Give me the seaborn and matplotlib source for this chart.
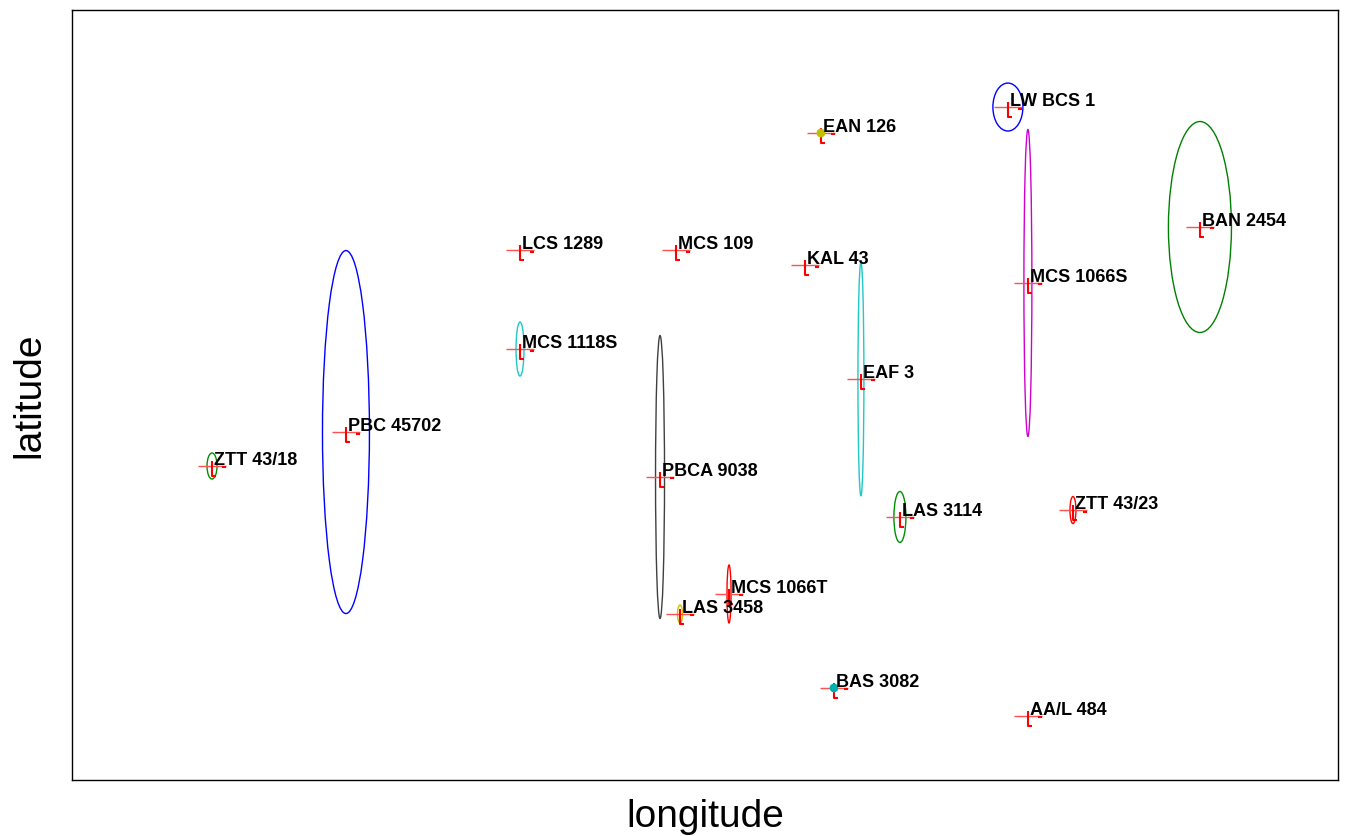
import numpy as np
import pandas as pd
import matplotlib
matplotlib.use("Agg")
import matplotlib.pyplot as plt
from matplotlib.patches import Ellipse
from matplotlib.path import Path
import seaborn as sns

# station positions (arbitrary lon/lat units)
names = ["ZTT 43/18", "PBC 45702", "LCS 1289", "MCS 1118S", "MCS 109", "PBCA 9038",
         "LAS 3458", "MCS 1066T", "KAL 43", "EAN 126", "BAS 3082", "EAF 3",
         "LAS 3114", "LW BCS 1", "MCS 1066S", "ZTT 43/23", "AA/L 484", "BAN 2454"]
lon = [11.06, 21.64, 35.39, 35.39, 47.71, 46.45, 48.03, 51.90, 57.90, 59.16, 60.19, 62.32,
       65.40, 73.93, 75.51, 79.07, 75.51, 89.10]
lat = [40.78, 45.19, 68.83, 55.97, 68.83, 39.35, 21.56, 24.16, 66.88, 84.03, 11.95, 52.08,
       34.16, 87.40, 64.55, 35.06, 8.31, 71.82]

# error ellipses: width (lon), height (lat), colour; None = none drawn
err_w = [0.79, 3.71, 0, 0.63, 0, 0.71, 0.40, 0.32, 0, 0, 0, 0.47,
         0.95, 2.37, 0.63, 0.47, 0, 4.98]
err_h = [3.38, 47.14, 0, 7.01, 0, 36.75, 2.34, 7.53, 0, 0, 0, 30.39,
         6.62, 6.23, 39.87, 3.51, 0, 27.40]
err_col = ["#009000", "#0000ff", None, "#20c8c8", None, "#404040", "#d0c000", "#ff0000",
           None, None, None, "#20c8c8", "#009000", "#0000ff", "#d000d0", "#ff0000",
           None, "#008000"]

# small filled dots
dot_names = ["EAN 126", "BAS 3082"]
dot_cols = ["#c0c000", "#00b0b0"]

df = pd.DataFrame({"name": names, "lon": lon, "lat": lat})

sns.set_style("white")
plt.rcParams["font.family"] = ["Liberation Sans", "DejaVu Sans"]

fig, ax = plt.subplots(figsize=(13.46, 8.36), dpi=100)
fig.subplots_adjust(left=0.0535, right=0.994, top=0.988, bottom=0.067)

for x, y, w, h, c in zip(lon, lat, err_w, err_h, err_col):
    if c is None:
        continue
    ax.add_patch(Ellipse((x, y), w, h, fill=False, edgecolor=c, lw=1.0, zorder=2))

# horizontal red bar through each station
sns.scatterplot(data=df, x="lon", y="lat", marker="_", s=420, color="#ff5050",
                linewidth=1.0, ax=ax, zorder=3, legend=False)

# red bracket mark
bracket = Path([(0, 0.5), (0, -1), (0.4, -1), (1.0, -0.15), (1.4, -0.15)],
               [Path.MOVETO, Path.LINETO, Path.LINETO, Path.MOVETO, Path.LINETO])
sns.scatterplot(data=df, x="lon", y="lat", marker=bracket, s=400, facecolor="none",
                edgecolor="#ff0000", linewidth=1.5, ax=ax, zorder=4, legend=False)

dots = df.set_index("name").loc[dot_names]
ax.scatter(dots["lon"], dots["lat"], s=40, c=dot_cols, zorder=5, linewidths=0)

for n, x, y in zip(names, lon, lat):
    ax.annotate(n, (x, y), xytext=(1.5, 4), textcoords="offset points",
                fontsize=13, fontweight="bold", va="center", ha="left",
                color="black", zorder=6)

ax.set_xlim(0, 100)
ax.set_ylim(0, 100)
ax.set_xticks([])
ax.set_yticks([])
for sp in ax.spines.values():
    sp.set_color("black")
    sp.set_linewidth(1.0)
ax.set_xlabel("longitude", fontsize=28, labelpad=14, color="black")
ax.set_ylabel("latitude", fontsize=28, labelpad=18, color="black")

fig.savefig("out.png", dpi=100)
